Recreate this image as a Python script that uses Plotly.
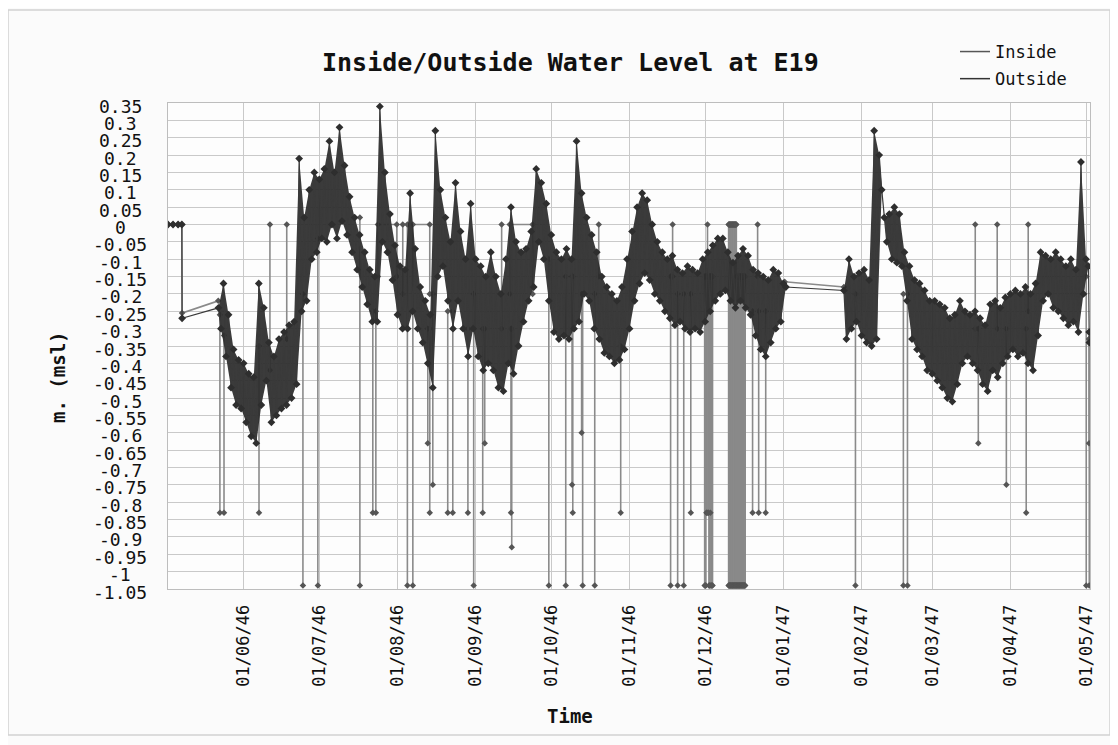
import pandas as pd
import plotly.graph_objects as go

# ---------------- data ----------------
title_text = "Inside/Outside Water Level at E19"
x_title = "Time"
y_title = "m. (msl)"

x_tick_dates = ["1946-06-01", "1946-07-01", "1946-08-01", "1946-09-01", "1946-10-01",
                "1946-11-01", "1946-12-01", "1947-01-01", "1947-02-01", "1947-03-01",
                "1947-04-01", "1947-05-01"]
x_tick_labels = ["01/06/46", "01/07/46", "01/08/46", "01/09/46", "01/10/46", "01/11/46",
                 "01/12/46", "01/01/47", "01/02/47", "01/03/47", "01/04/47", "01/05/47"]
y_tick_labels = ["0.35", "0.3", "0.25", "0.2", "0.15", "0.1", "0.05", "0", "-0.05", "-0.1",
                 "-0.15", "-0.2", "-0.25", "-0.3", "-0.35", "-0.4", "-0.45", "-0.5", "-0.55",
                 "-0.6", "-0.65", "-0.7", "-0.75", "-0.8", "-0.85", "-0.9", "-0.95", "-1",
                 "-1.05"]

# Outside: lead-in readings
outside_lead_dates = ["1946-05-02 00:00", "1946-05-04 00:00", "1946-05-06 00:00",
                      "1946-05-07 12:00", "1946-05-07 14:00"]
outside_lead_vals = [0.0, 0.0, 0.0, 0.0, -0.27]

# Outside: first continuous record (2-day windows: high then low), from 22 May 1946
seg1_start = "1946-05-22"
seg1_hi = [-0.24, -0.17, -0.26, -0.36, -0.39, -0.40, -0.43, -0.44, -0.17, -0.24,
           -0.34, -0.38, -0.33, -0.31, -0.29, -0.28, 0.19, 0.02, 0.10, 0.15,
           0.13, 0.16, 0.24, 0.15, 0.28, 0.17, 0.08, 0.02, -0.03, -0.08,
           -0.13, -0.15, 0.34, 0.15, 0.03, -0.06, -0.12, -0.13, 0.09, -0.07,
           -0.18, -0.22, -0.26, 0.27, 0.10, 0.02, -0.05, 0.12, -0.02, -0.10,
           0.06, -0.10, -0.12, -0.15, -0.08, -0.15, -0.20, -0.10, 0.05, -0.05,
           -0.08, -0.07, -0.02, 0.16, 0.12, 0.06, -0.03, -0.08, -0.10, -0.07,
           -0.10, 0.24, 0.09, 0.02, -0.03, -0.08, -0.15, -0.18, -0.20, -0.22,
           -0.18, -0.10, -0.02, 0.05, 0.09, 0.07, 0.00, -0.05, -0.08, -0.10,
           -0.09, -0.13, -0.14, -0.12, -0.13, -0.14, -0.10, -0.08, -0.06, -0.04,
           -0.04, -0.08, -0.11, -0.09, -0.07, -0.09, -0.13, -0.14, -0.15, -0.16,
           -0.13, -0.14, -0.17]
seg1_lo = [-0.30, -0.38, -0.47, -0.52, -0.53, -0.57, -0.61, -0.63, -0.52, -0.45,
           -0.57, -0.55, -0.53, -0.52, -0.50, -0.46, -0.25, -0.22, -0.10, -0.08,
           -0.04, -0.05, 0.00, -0.04, 0.01, -0.03, -0.08, -0.13, -0.18, -0.23,
           -0.28, -0.28, -0.05, -0.08, -0.16, -0.26, -0.30, -0.30, -0.25, -0.30,
           -0.34, -0.40, -0.47, -0.15, -0.12, -0.22, -0.30, -0.22, -0.30, -0.38,
           -0.30, -0.38, -0.42, -0.40, -0.42, -0.47, -0.48, -0.40, -0.43, -0.35,
           -0.28, -0.22, -0.18, -0.05, -0.10, -0.22, -0.31, -0.33, -0.32, -0.33,
           -0.30, -0.28, -0.20, -0.22, -0.30, -0.33, -0.37, -0.38, -0.40, -0.39,
           -0.36, -0.30, -0.22, -0.17, -0.14, -0.16, -0.20, -0.22, -0.25, -0.27,
           -0.29, -0.28, -0.30, -0.31, -0.30, -0.31, -0.28, -0.25, -0.22, -0.20,
           -0.19, -0.22, -0.24, -0.22, -0.24, -0.26, -0.32, -0.36, -0.38, -0.34,
           -0.30, -0.28, -0.18]

# Outside: second continuous record, from 25 Jan 1947
seg2_start = "1947-01-25"
seg2_hi = [-0.19, -0.10, -0.15, -0.14, -0.13, -0.16, 0.27, 0.20, 0.02, 0.03,
           0.05, 0.03, -0.08, -0.12, -0.16, -0.17, -0.19, -0.22, -0.22, -0.23,
           -0.24, -0.27, -0.26, -0.22, -0.25, -0.26, -0.25, -0.27, -0.29, -0.23,
           -0.22, -0.24, -0.21, -0.20, -0.19, -0.20, -0.18, -0.20, -0.17, -0.08,
           -0.09, -0.10, -0.08, -0.10, -0.12, -0.10, -0.13, 0.18, -0.10]
seg2_lo = [-0.33, -0.30, -0.28, -0.32, -0.34, -0.35, -0.33, 0.10, -0.05, -0.10,
           -0.11, -0.12, -0.22, -0.33, -0.36, -0.38, -0.42, -0.43, -0.45, -0.47,
           -0.50, -0.51, -0.46, -0.40, -0.38, -0.40, -0.42, -0.46, -0.48, -0.42,
           -0.44, -0.40, -0.38, -0.36, -0.38, -0.37, -0.40, -0.42, -0.32, -0.22,
           -0.20, -0.24, -0.25, -0.27, -0.29, -0.28, -0.31, -0.20, -0.12]

outside_tail_dates = ["1947-05-02 06:00", "1947-05-02 08:00"]
outside_tail_vals = [-0.31, -0.34]

# Inside: lead-in and gap readings
inside_lead_dates = ["1946-05-02 00:00", "1946-05-04 00:00", "1946-05-06 00:00",
                     "1946-05-07 12:00", "1946-05-07 14:00", "1946-05-21 22:00"]
inside_lead_vals = [0.0, 0.0, 0.0, 0.0, -0.255, -0.22]
inside_gap_dates = ["1947-01-01 12:00", "1947-01-25 00:00"]
inside_gap_vals = [-0.165, -0.18]

# Inside: sensor drop-outs (time, level before, drop-out reading)
spike_times = ["1946-05-22 14:00", "1946-05-24 05:00", "1946-06-07 02:00", "1946-06-11 10:00",
               "1946-06-18 02:00", "1946-06-24 12:00", "1946-06-30 10:00", "1946-07-17 02:00",
               "1946-07-22 05:00", "1946-07-23 10:00", "1946-08-04 22:00", "1946-08-07 02:00",
               "1946-08-13 00:00", "1946-08-13 19:00", "1946-08-15 00:00", "1946-08-20 22:00",
               "1946-08-22 22:00", "1946-08-28 22:00", "1946-08-31 05:00", "1946-09-03 19:00",
               "1946-09-04 14:00", "1946-09-11 07:00", "1946-09-15 00:00", "1946-09-15 07:00",
               "1946-09-30 00:00", "1946-10-06 17:00", "1946-10-09 05:00", "1946-10-09 12:00",
               "1946-10-13 00:00", "1946-10-13 10:00", "1946-10-18 05:00", "1946-10-19 19:00",
               "1946-10-28 12:00", "1946-11-17 07:00", "1946-11-18 02:00", "1946-11-20 02:00",
               "1946-11-22 12:00", "1946-11-25 07:00", "1946-11-30 19:00", "1946-12-01 12:00",
               "1946-12-01 22:00", "1946-12-02 07:00", "1946-12-03 02:00", "1946-12-03 22:00",
               "1946-12-19 19:00", "1946-12-21 19:00", "1946-12-22 05:00", "1946-12-25 00:00",
               "1947-01-29 14:00", "1947-02-17 14:00", "1947-02-19 05:00", "1947-03-18 02:00",
               "1947-03-19 07:00", "1947-03-26 19:00", "1947-03-30 10:00", "1947-04-07 07:00",
               "1947-04-08 02:00", "1947-05-01 02:00", "1947-05-02 05:00", "1947-05-02 07:00"]
spike_base = [-0.26, -0.32, -0.35, -0.42, -0.33, -0.20, -0.04, 0.02,
              -0.25, -0.25, 0.0, 0.0, -0.30, -0.30, -0.20, -0.25,
              -0.25, -0.30, -0.20, -0.30, -0.30, -0.30, -0.30, -0.30,
              -0.10, -0.15, -0.15, -0.15, -0.20, -0.20, -0.20, -0.15,
              -0.35, -0.15, -0.15, -0.20, -0.20, -0.20, -0.15, -0.15,
              -0.15, -0.15, -0.15, -0.15,
              -0.25, -0.15, -0.25, -0.25, -0.20, -0.20, -0.20, -0.30,
              -0.30, -0.30, -0.30, -0.30, -0.25, -0.15, -0.33, -0.33]
spike_level = [-0.83, -0.83, -0.83, 0.0, 0.0, -1.04, -1.04, -1.04,
               -0.83, -0.83, -1.04, -1.04, -0.63, -0.83, -0.75, -0.83,
               -0.83, -0.83, -1.04, -0.83, -0.63, 0.0, -0.83, -0.93,
               -1.04, -1.04, -0.75, -0.83, -0.60, -1.04, -1.04, 0.0,
               -0.83, -1.04, 0.0, -1.04, -1.04, -0.83, -1.04, -0.83,
               0.0, -0.83, -0.83, -1.04,
               -0.83, 0.0, -0.83, -0.83, -1.04, -1.04, -1.04, 0.0,
               -0.63, 0.0, -0.75, -0.83, 0.0, -1.04, -0.63, -1.04]

# Inside: rapid bursts of drop-outs (early and mid December 1946)
burst_times = ["1946-12-01 02:00", "1946-12-01 06:00", "1946-12-01 16:00", "1946-12-02 02:00",
               "1946-12-02 12:00", "1946-12-02 17:00", "1946-12-02 22:00", "1946-12-03 07:00",
               "1946-12-03 12:00", "1946-12-03 17:00",
               "1946-12-10 07:00", "1946-12-10 10:30", "1946-12-10 14:00", "1946-12-10 17:30",
               "1946-12-10 21:00", "1946-12-11 00:30", "1946-12-11 04:00", "1946-12-11 07:30",
               "1946-12-11 11:00", "1946-12-11 14:30", "1946-12-11 18:00", "1946-12-11 21:30",
               "1946-12-12 01:00", "1946-12-12 04:30", "1946-12-12 08:00", "1946-12-12 11:30",
               "1946-12-12 15:00", "1946-12-12 18:30", "1946-12-12 22:00", "1946-12-13 01:30",
               "1946-12-13 05:00", "1946-12-13 08:30", "1946-12-13 12:00", "1946-12-13 15:30",
               "1946-12-13 19:00", "1946-12-13 22:30", "1946-12-14 02:00", "1946-12-14 05:30",
               "1946-12-14 09:00", "1946-12-14 12:30", "1946-12-14 16:00", "1946-12-14 19:30",
               "1946-12-14 23:00", "1946-12-15 02:30", "1946-12-15 06:00", "1946-12-15 09:30",
               "1946-12-15 13:00", "1946-12-15 16:30", "1946-12-15 20:00", "1946-12-15 23:30",
               "1946-12-16 03:00", "1946-12-16 06:30", "1946-12-16 10:00", "1946-12-16 13:30",
               "1946-12-16 17:00", "1946-12-16 20:30"]
burst_base = [-0.15, -0.15, -0.15, -0.15, -0.15, -0.15, -0.15, -0.15, -0.15, -0.15,
              0.0, 0.0, 0.0, 0.0, 0.0, 0.0, 0.0, 0.0, 0.0, 0.0, 0.0, 0.0,
              0.0, 0.0, 0.0, 0.0, 0.0, 0.0, 0.0, 0.0, 0.0, 0.0,
              -0.15, -0.15, -0.15, -0.15, -0.15, -0.15, -0.15, -0.15, -0.15, -0.15,
              -0.15, -0.15, -0.15, -0.15, -0.15, -0.15, -0.15, -0.15, -0.15, -0.15,
              -0.15, -0.15, -0.15, -0.15]
burst_level = [-1.04] * 2 + [-0.83] * 2 + [-1.04] * 6 + [-1.04] * 46

# Inside: periods stuck at 0 (start, end, level before/after)
flat_start = ["1946-07-24 05:00", "1946-08-03 02:00", "1946-09-14 12:00"]
flat_end = ["1946-07-31 17:00", "1946-08-13 19:00", "1946-09-23 14:00"]
flat_base = [-0.15, -0.20, -0.20]
flat_level = [0.0, 0.0, 0.0]

# ---------------- build series ----------------
def band(start, hi, lo):
    t0 = pd.Timestamp(start)
    hx = [t0 + pd.Timedelta(days=2 * j) for j in range(len(hi))]
    lx = [t0 + pd.Timedelta(days=2 * j + 1) for j in range(len(lo))]
    zx, zy = [], []
    for a, h, b, l in zip(hx, hi, lx, lo):
        zx += [a, b]
        zy += [h, l]
    return hx, lx, zx, zy

h1x, l1x, s1x, s1y = band(seg1_start, seg1_hi, seg1_lo)
h2x, l2x, s2x, s2y = band(seg2_start, seg2_hi, seg2_lo)
out_x = [pd.Timestamp(d) for d in outside_lead_dates] + s1x + s2x + \
        [pd.Timestamp(d) for d in outside_tail_dates]
out_y = outside_lead_vals + s1y + s2y + outside_tail_vals

in_x = [pd.Timestamp(d) for d in inside_lead_dates] + [None] + \
       [pd.Timestamp(d) for d in inside_gap_dates] + [None]
in_y = inside_lead_vals + [None] + inside_gap_vals + [None]
for t, b, v in zip(spike_times + burst_times, spike_base + burst_base,
                   spike_level + burst_level):
    tt = pd.Timestamp(t)
    in_x += [tt, tt, None]
    in_y += [b, v, None]
for t1, t2, b, v in zip(flat_start, flat_end, flat_base, flat_level):
    a, c = pd.Timestamp(t1), pd.Timestamp(t2)
    in_x += [a, a, c, c, None]
    in_y += [b, v, v, b, None]

# ---------------- figure ----------------
MONO = "DejaVu Sans Mono"
fig = go.Figure()

fig.add_trace(go.Scatter(x=in_x, y=in_y, mode="lines+markers", showlegend=False,
                         line=dict(color="#8a8a8a", width=1.6),
                         marker=dict(symbol="diamond", size=5, color="#555555"),
                         connectgaps=False, name="Inside"))
# dense envelope of the outside record (filled between daily highs and lows)
for hx, lx, hi, lo in [(h1x, l1x, seg1_hi, seg1_lo), (h2x, l2x, seg2_hi, seg2_lo)]:
    fig.add_trace(go.Scatter(x=hx + lx[::-1], y=list(hi) + list(lo)[::-1], mode="lines",
                             fill="toself", fillcolor="rgba(44,44,44,0.93)",
                             line=dict(width=0), showlegend=False, hoverinfo="skip"))
fig.add_trace(go.Scatter(x=out_x, y=out_y, mode="lines+markers", showlegend=False,
                         line=dict(color="#3a3a3a", width=1.2),
                         marker=dict(symbol="diamond", size=6, color="#2e2e2e"),
                         name="Outside"))
# legend entries
fig.add_trace(go.Scatter(x=[None], y=[None], mode="lines", name="Inside",
                         line=dict(color="#555555", width=1.5), legendgroup="a"))
fig.add_trace(go.Scatter(x=[None], y=[None], mode="lines", name="Outside",
                         line=dict(color="#333333", width=1.5), legendgroup="b"))

# page body has an 8px margin: figure origin sits at (8, 8) on screen
OFF = 8
W, H = 1118 - OFF, 745 - OFF
L, R, T, B = 168 - OFF, 1090 - OFF, 103 - OFF, 589 - OFF
pw, ph = R - L, B - T

def px(x):  # screen x -> paper
    return (x - OFF - L) / pw

def py(y):  # screen y -> paper
    return (B - (y - OFF)) / ph

fig.update_layout(
    width=W, height=H,
    margin=dict(l=L, r=W - R, t=T, b=H - B),
    paper_bgcolor="#fbfbfb", plot_bgcolor="#fdfdfd",
    font=dict(family=MONO, color="#111111"),
    legend=dict(x=px(955), y=py(34), xanchor="left", yanchor="top",
                font=dict(family=MONO, size=17, color="#111111"),
                bgcolor="rgba(0,0,0,0)", itemwidth=30, tracegroupgap=2,
                traceorder="grouped"),
)
fig.update_xaxes(type="date", range=["1946-05-02 00:00", "1947-05-02 14:00"],
                 tickvals=x_tick_dates, ticktext=x_tick_labels, tickangle=-90,
                 tickfont=dict(family=MONO, size=17, color="#111111"),
                 ticks="outside", ticklen=8, tickcolor="rgba(0,0,0,0)",
                 showgrid=True, gridcolor="#c9c9c9", gridwidth=1,
                 showline=True, linecolor="#bdbdbd", mirror=True, zeroline=False)
fig.update_yaxes(range=[-1.05, 0.35], tickvals=[float(s) for s in y_tick_labels],
                 showticklabels=False, ticks="",
                 showgrid=True, gridcolor="#c9c9c9", gridwidth=1,
                 showline=True, linecolor="#bdbdbd", mirror=True, zeroline=False)

annotations = []
for s in y_tick_labels:
    annotations.append(dict(x=px(120), xref="paper", y=float(s), yref="y", text=s,
                            showarrow=False, xanchor="center", yanchor="middle", yshift=-3,
                            font=dict(family=MONO, size=18, color="#111111")))
annotations.append(dict(x=px(570), y=py(63), xref="paper", yref="paper", text="<b>%s</b>" % title_text,
                        showarrow=False, xanchor="center", yanchor="middle",
                        font=dict(family=MONO, size=25, color="#111111")))
annotations.append(dict(x=px(570), y=py(716), xref="paper", yref="paper", text="<b>%s</b>" % x_title,
                        showarrow=False, xanchor="center", yanchor="middle",
                        font=dict(family=MONO, size=19, color="#111111")))
annotations.append(dict(x=px(58), y=py(377), xref="paper", yref="paper", text="<b>%s</b>" % y_title,
                        showarrow=False, xanchor="center", yanchor="middle", textangle=-90,
                        font=dict(family=MONO, size=19, color="#111111")))
fig.update_layout(annotations=annotations)

fig.add_shape(type="rect", xref="paper", yref="paper",
              x0=px(8), x1=px(1110), y0=py(735), y1=py(10),
              line=dict(color="#d2d2d2", width=1.5), fillcolor="rgba(0,0,0,0)", layer="below")

fig.write_html("out.html")
